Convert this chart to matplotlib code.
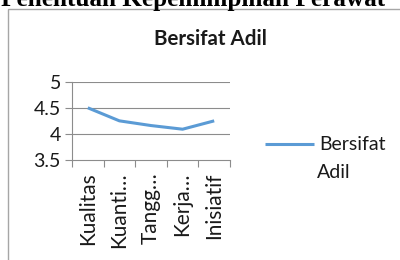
import matplotlib
matplotlib.use("Agg")
import matplotlib.pyplot as plt
from matplotlib.patches import Rectangle

categories = ["Kualitas", "Kuanti…", "Tangg…", "Kerja…", "Inisiatif"]
values = [4.5, 4.25, 4.16, 4.09, 4.25]
series_name = "Bersifat"
series_name_2 = "Adil"
title = "Bersifat Adil"
y_ticks = [3.5, 4, 4.5, 5]
y_tick_labels = ["3.5", "4", "4.5", "5"]
doc_heading = "Penentuan Kepemimpinan Perawat"

W, H = 400, 260
fig = plt.figure(figsize=(W / 100, H / 100), dpi=100)
fig.patch.set_facecolor("white")

font = "Lato"
fs = 14
grid_c = "#8c8c8c"
line_c = "#5b9bd5"
text_c = "#1a1a1a"

# document heading cut off at top
fig.text(1 / W, 1 - 6 / H, doc_heading, ha="left", va="baseline",
         fontsize=18.2, fontweight="bold", family="Liberation Serif", color="black")

# chart border
fig.patches.append(Rectangle((8 / W, -0.1), 1.2, 1 - 9 / H + 0.1, transform=fig.transFigure,
                             fill=False, edgecolor="#a6a6a6", linewidth=1.0))

ax = fig.add_axes([72 / W, 1 - 160 / H, (230 - 72) / W, (160 - 81.7) / H])
x = list(range(len(categories)))
ax.plot(x, values, color=line_c, linewidth=2.2, label=series_name, solid_capstyle="butt")
ax.set_xlim(-0.5, len(categories) - 0.5)
ax.set_ylim(3.5, 5)
ax.set_yticks(y_ticks)
ax.set_yticklabels(y_tick_labels, family=font, fontsize=fs, color=text_c)
ax.set_xticks([i - 0.5 for i in range(len(categories) + 1)], minor=False)
ax.set_xticklabels([""] * (len(categories) + 1))
ax.set_xticks(x, minor=True)
ax.set_xticklabels(categories, minor=True, rotation=90, family=font, fontsize=15, color=text_c)
ax.tick_params(axis="x", which="minor", length=0, pad=9)
ax.tick_params(axis="x", which="major", length=5, color=grid_c, direction="out")
ax.tick_params(axis="y", length=5, color=grid_c, direction="out", pad=3)
for y in y_ticks[1:]:
    ax.axhline(y, color=grid_c, linewidth=0.8, zorder=0)
for s in ["top", "right"]:
    ax.spines[s].set_visible(False)
ax.spines["left"].set_color(grid_c)
ax.spines["bottom"].set_color(grid_c)
ax.spines["left"].set_linewidth(0.8)
ax.spines["bottom"].set_linewidth(0.8)

fig.text(210 / W, 1 - 39 / H, title, ha="center", va="center",
         fontsize=14.8, fontweight="bold", family=font, color=text_c)

handles, labels = ax.get_legend_handles_labels()
leg = fig.legend(handles, labels, loc="center left", bbox_to_anchor=(265 / W, 1 - 145 / H),
                 frameon=False, prop={"family": font, "size": fs}, handlelength=2.5,
                 handletextpad=0.3, borderpad=0, borderaxespad=0, labelcolor=text_c)
fig.text(317 / W, 1 - 172 / H, series_name_2, ha="left", va="center",
         family=font, fontsize=fs, color=text_c)

fig.savefig("out.png", dpi=100)
